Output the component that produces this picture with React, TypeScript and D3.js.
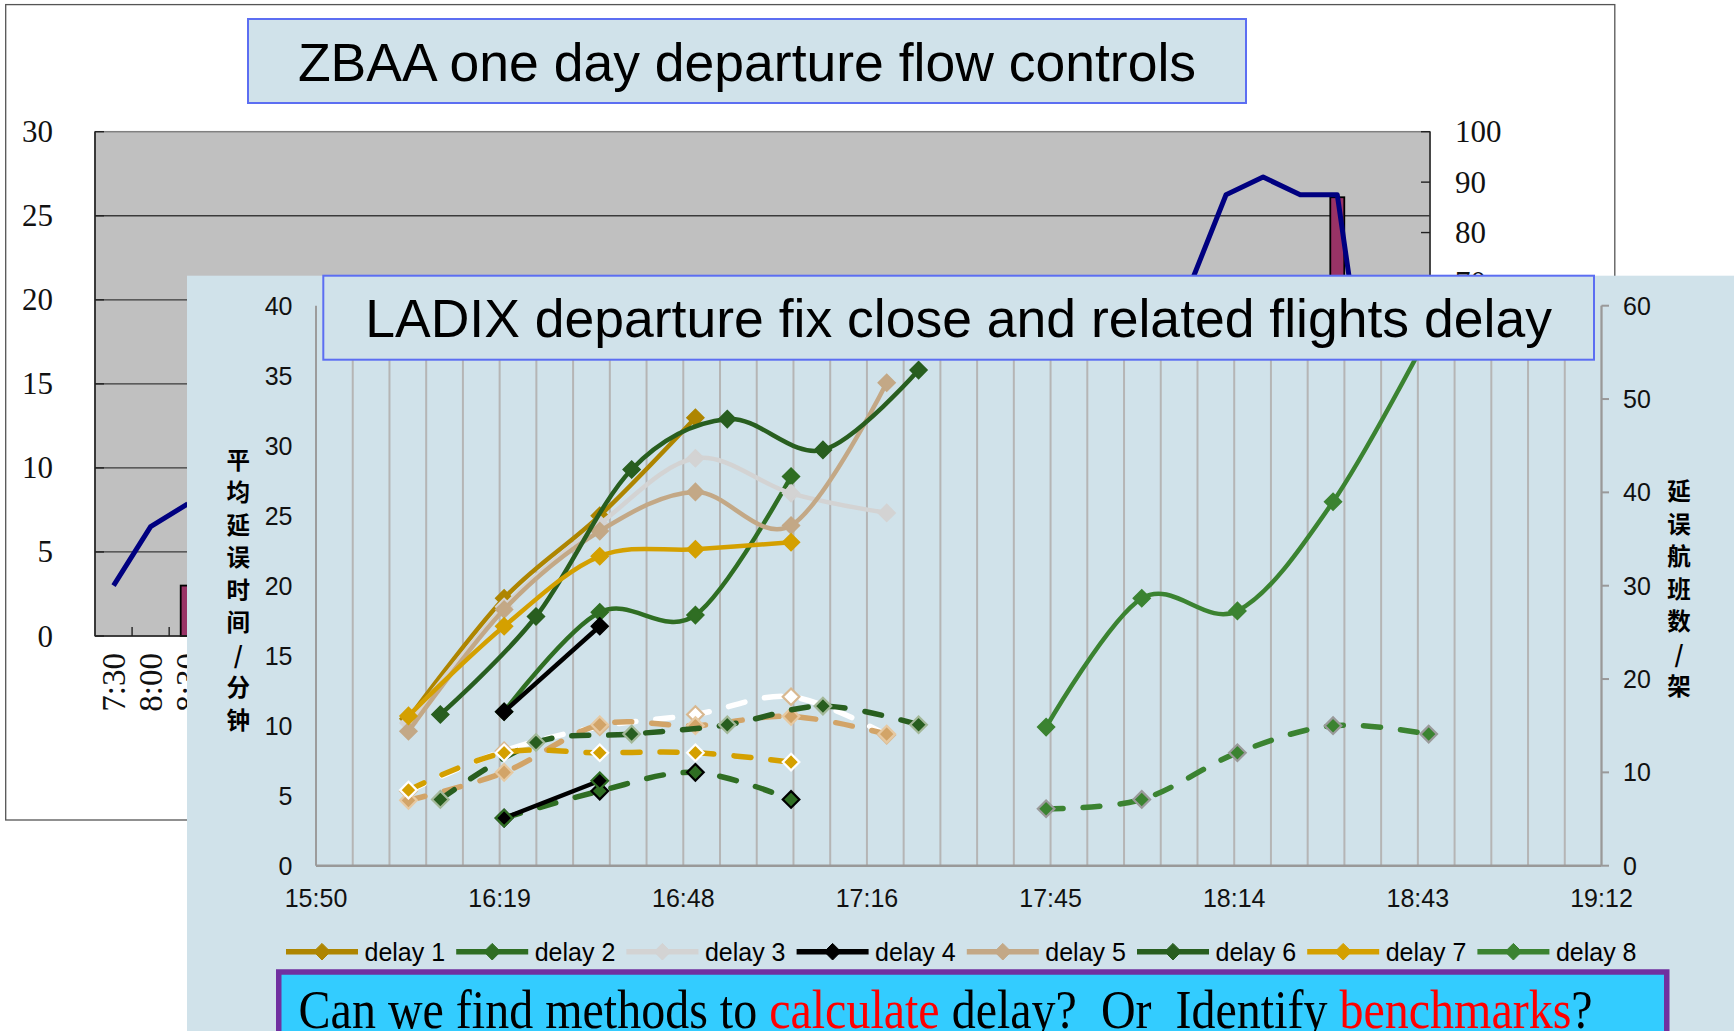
import React from "react";
import * as d3 from "d3";

const W = 1734;
const H = 1031;

// ---------------- Background chart: ZBAA one day departure flow controls ----------------
const zbaaTitle = "ZBAA one day departure flow controls";
const zbaaCategories = [
  "7:30", "8:00", "8:30", "9:00", "9:30", "10:00", "10:30", "11:00", "11:30", "12:00",
  "12:30", "13:00", "13:30", "14:00", "14:30", "15:00", "15:30", "16:00", "16:30", "17:00",
  "17:30", "18:00", "18:30", "19:00", "19:30", "20:00", "20:30", "21:00", "21:30", "22:00",
  "22:30", "23:00", "23:30", "0:00", "0:30", "1:00",
];
// blue line (right axis 0-100); parts hidden behind the overlay are unknown -> null
const zbaaFlow: (number | null)[] = [
  10.0, 21.7, 26.2, null, null, null, null, null, null, null,
  null, null, null, null, null, null, null, null, null, null,
  null, null, null, null, null, null, null, null, null, 69.0,
  87.5, 91.0, 87.5, 87.5, 36.3, null,
];
// bars (left axis 0-30)
const zbaaControl: (number | null)[] = [
  null, null, 3.0, null, null, null, null, null, null, null,
  null, null, null, null, null, null, null, null, null, null,
  null, null, null, null, null, null, null, null, null, null,
  null, null, null, 26.1, null, null,
];
const zbaaLeftTicks = [0, 5, 10, 15, 20, 25, 30];
const zbaaRightTicks = [0, 10, 20, 30, 40, 50, 60, 70, 80, 90, 100];

// ---------------- Overlay chart: LADIX ----------------
const ladixTitle = "LADIX departure fix close and related flights delay";
const leftTitle = ["平", "均", "延", "误", "时", "间", "/", "分", "钟"];
const rightTitle = ["延", "误", "航", "班", "数", "/", "架"];
const xTickLabels = ["15:50", "16:19", "16:48", "17:16", "17:45", "18:14", "18:43", "19:12"];
const yLeftTicks = [0, 5, 10, 15, 20, 25, 30, 35, 40];
const yRightTicks = [0, 10, 20, 30, 40, 50, 60];

const timesA = ["16:04:30", "16:19:30", "16:34:30", "16:49:30", "17:04:30", "17:19:30"];
const timesB = ["16:09:30", "16:24:30", "16:39:30", "16:54:30", "17:09:30", "17:24:30"];
const timesC = ["16:19:30", "16:34:30", "16:49:30", "17:04:30"];
const timesD = ["17:44:30", "17:59:30", "18:14:30", "18:29:30", "18:44:30"];

// average delay, minutes (left axis)
const delay1Avg = [10.5, 19.1, 25.0, 32.0];
const delay2Avg = [11.0, 18.1, 17.9, 27.8];
const delay3Avg = [10.2, 18.5, 24.4, 29.1, 26.6, 25.2];
const delay4Avg = [11.0, 17.1];
const delay5Avg = [9.6, 18.3, 23.9, 26.7, 24.3, 34.5];
const delay6Avg = [10.8, 17.8, 28.3, 31.9, 29.7, 35.4];
const delay7Avg = [10.7, 17.1, 22.1, 22.6, 23.1];
const delay8Avg = [9.9, 19.1, 18.2, 26.0, 38.0];

// delayed flights count (right axis)
const delay2Count = [5.1, 8.0, 10.0, 7.1];
const delay3Count = [8.0, 12.3, 14.9, 16.2, 18.1, 14.0];
const delay4Count = [5.1, 9.1];
const delay5Count = [7.0, 10.0, 15.1, 15.0, 16.0, 14.1];
const delay6Count = [7.1, 13.2, 14.1, 15.1, 17.1, 15.1];
const delay7Count = [8.1, 12.1, 12.1, 12.1, 11.1];
const delay8Count = [6.1, 7.1, 12.1, 15.0, 14.1];

const bottomParts = [
  { t: "Can we find methods to ", red: false },
  { t: "calculate", red: true },
  { t: " delay?  Or  Identify ", red: false },
  { t: "benchmarks", red: true },
  { t: "?", red: false },
];

const toMin = (s: string) => {
  const [h, m, sec] = s.split(":").map(Number);
  return h * 60 + m + (sec || 0) / 60;
};

const diamond = (r: number) => `M0,${-r}L${r},0L0,${r}L${-r},0Z`;

type Series = {
  name?: string;
  times: string[];
  values: number[];
  color: string;
  axis: "L" | "R";
  dashed?: boolean;
  width: number;
  mFill: string;
  mStroke: string;
  r: number;
};

const C1 = "#AE8500";
const C2 = "#2F6E23";
const C3 = "#D3D3D3";
const C4 = "#000000";
const C5 = "#C3A886";
const C6 = "#285E1F";
const C7 = "#D4A000";
const C8 = "#3B8331";

const primary: Series[] = [
  { name: "delay 1", times: timesA.slice(0, 4), values: delay1Avg, color: C1, axis: "L", width: 4.5, mFill: C1, mStroke: C1, r: 8.5 },
  { name: "delay 2", times: timesC, values: delay2Avg, color: C2, axis: "L", width: 4.5, mFill: C2, mStroke: C2, r: 8.5 },
  { name: "delay 3", times: timesA, values: delay3Avg, color: C3, axis: "L", width: 4.5, mFill: C3, mStroke: C3, r: 8.5 },
  { name: "delay 4", times: timesC.slice(0, 2), values: delay4Avg, color: C4, axis: "L", width: 4.5, mFill: C4, mStroke: C4, r: 8.5 },
  { name: "delay 5", times: timesA, values: delay5Avg, color: C5, axis: "L", width: 4.5, mFill: C5, mStroke: C5, r: 8.5 },
  { name: "delay 6", times: timesB, values: delay6Avg, color: C6, axis: "L", width: 4.5, mFill: C6, mStroke: C6, r: 8.5 },
  { name: "delay 7", times: timesA.slice(0, 5), values: delay7Avg, color: C7, axis: "L", width: 4.5, mFill: C7, mStroke: C7, r: 8.5 },
  { name: "delay 8", times: timesD, values: delay8Avg, color: C8, axis: "L", width: 4.5, mFill: C8, mStroke: C8, r: 8.5 },
];

const secondary: Series[] = [
  { times: timesC, values: delay2Count, color: C2, axis: "R", dashed: true, width: 5.5, mFill: C2, mStroke: "#000", r: 8.3 },
  { times: timesA, values: delay3Count, color: "#FFFFFF", axis: "R", dashed: true, width: 5.5, mFill: "#FFFFFF", mStroke: "#D8B890", r: 8.3 },
  { times: timesC.slice(0, 2), values: delay4Count, color: "#000", axis: "R", width: 4.5, mFill: "#000", mStroke: C2, r: 8.3 },
  { times: timesA, values: delay5Count, color: "#D2A468", axis: "R", dashed: true, width: 5.5, mFill: "#D2A468", mStroke: "#E6C9A2", r: 8.3 },
  { times: timesB, values: delay6Count, color: C6, axis: "R", dashed: true, width: 5.5, mFill: C6, mStroke: "#A3B899", r: 8.3 },
  { times: timesA.slice(0, 5), values: delay7Count, color: C7, axis: "R", dashed: true, width: 5.5, mFill: C7, mStroke: "#FFFFFF", r: 8.3 },
  { times: timesD, values: delay8Count, color: C8, axis: "R", dashed: true, width: 5.5, mFill: C8, mStroke: "#9A9A9A", r: 8.3 },
];

export default function App() {
  // ---- background scales ----
  const bx = d3.scaleBand<string>().domain(zbaaCategories).range([95, 1430]).padding(0);
  const byL = d3.scaleLinear().domain([0, 30]).range([636, 131.7]);
  const byR = d3.scaleLinear().domain([0, 100]).range([636, 131.7]);
  const bw = bx.bandwidth();
  const cx = (c: string) => (bx(c) as number) + bw / 2;
  const overlayLeft = 187;
  const overlayTop = 275.7;

  const flowPts = zbaaCategories.map((c, i) => ({ c, v: zbaaFlow[i] }));
  const flowLine = d3
    .line<{ c: string; v: number | null }>()
    .defined((d) => d.v != null)
    .x((d) => cx(d.c))
    .y((d) => byR(d.v as number));

  // ---- overlay scales ----
  const x0 = toMin("15:50");
  const x = d3.scaleLinear().domain([x0, x0 + 201.6]).range([316, 1601.5]);
  const yL = d3.scaleLinear().domain([0, 40]).range([865.7, 305.7]);
  const yR = d3.scaleLinear().domain([0, 60]).range([865.7, 305.7]);
  const gridMins = d3.range(1, 36).map((k) => x0 + k * 5.76);
  const xTickVals = xTickLabels.map((_, i) => x0 + i * 28.8);

  const line = (s: Series) =>
    d3
      .line<[number, number]>()
      .x((d) => d[0])
      .y((d) => d[1])
      .curve(d3.curveCardinal.tension(0))(
        s.times.map((t, i) => [x(toMin(t)), (s.axis === "L" ? yL : yR)(s.values[i])] as [number, number])
      );

  const drawSeries = (s: Series, key: string) => (
    <g key={key}>
      <path
        d={line(s) || ""}
        fill="none"
        stroke={s.color}
        strokeWidth={s.width}
        strokeDasharray={s.dashed ? "17 20" : undefined}
        strokeLinecap={s.dashed ? "round" : "butt"}
        strokeLinejoin="round"
      />
      {s.times.map((t, i) => (
        <path
          key={i}
          d={diamond(s.r)}
          transform={`translate(${x(toMin(t))},${(s.axis === "L" ? yL : yR)(s.values[i])})`}
          fill={s.mFill}
          stroke={s.mStroke}
          strokeWidth={s.axis === "L" ? 1.5 : 2.2}
        />
      ))}
    </g>
  );

  const sans = "'Liberation Sans', Arial, sans-serif";
  const serif = "'Liberation Serif', 'Times New Roman', serif";
  const cjk = "'Noto Sans CJK SC', sans-serif";
  const panel = "#D0E2EA";

  return (
    <svg
      width={W}
      height={H}
      viewBox={`0 0 ${W} ${H}`}
      style={{ position: "fixed", left: 0, top: 0, display: "block", background: "#fff" }}
    >
      {/* ===== background ZBAA chart ===== */}
      <rect x={5.7} y={4.6} width={1614.8 - 5.7} height={820 - 4.6} fill="#fff" stroke="#555" strokeWidth={1.3} />
      <rect x={95} y={131.7} width={1430 - 95} height={636 - 131.7} fill="#C0C0C0" stroke="#808080" strokeWidth={1.5} />
      {zbaaLeftTicks.filter((t) => t > 0 && t < 30).map((t) => (
        <line key={t} x1={95} x2={1430} y1={byL(t)} y2={byL(t)} stroke="#3a3a3a" strokeWidth={1.3} />
      ))}
      {zbaaCategories.map((c, i) =>
        zbaaControl[i] == null ? null : (
          <rect
            key={c}
            x={cx(c) - 7}
            y={byL(zbaaControl[i] as number)}
            width={14}
            height={636 - byL(zbaaControl[i] as number)}
            fill="#993366"
            stroke="#000"
            strokeWidth={1.8}
          />
        )
      )}
      <line x1={95} x2={95} y1={131.7} y2={636} stroke="#222" strokeWidth={1.6} />
      <line x1={95} x2={1430} y1={636} y2={636} stroke="#222" strokeWidth={1.6} />
      <line x1={1430} x2={1430} y1={131.7} y2={636} stroke="#333" strokeWidth={1.6} />
      {zbaaLeftTicks.map((t) => (
        <line key={t} x1={95} x2={104} y1={byL(t)} y2={byL(t)} stroke="#222" strokeWidth={1.4} />
      ))}
      {zbaaRightTicks.map((t) => (
        <line key={t} x1={1421} x2={1430} y1={byR(t)} y2={byR(t)} stroke="#222" strokeWidth={1.4} />
      ))}
      {zbaaCategories.slice(1).map((c) => (
        <line key={c} x1={bx(c) as number} x2={bx(c) as number} y1={627} y2={636} stroke="#222" strokeWidth={1.4} />
      ))}
      <path d={flowLine(flowPts) || ""} fill="none" stroke="#000080" strokeWidth={5} strokeLinejoin="round" />
      {zbaaLeftTicks.map((t) => (
        <text key={t} x={53} y={byL(t)} textAnchor="end" dominantBaseline="central" fontFamily={serif} fontSize={31} fill="#111">
          {t}
        </text>
      ))}
      {/* right-axis labels: only those not fully covered by the overlay panel */}
      {zbaaRightTicks
        .filter((t) => byR(t) - 12 < overlayTop)
        .map((t) => (
          <text key={t} x={1455} y={byR(t)} textAnchor="start" dominantBaseline="central" fontFamily={serif} fontSize={31} fill="#111">
            {t}
          </text>
        ))}
      {/* category labels: only those not covered by the overlay panel */}
      {zbaaCategories
        .filter((c) => cx(c) - 12 < overlayLeft)
        .map((c) => (
          <text
            key={c}
            transform={`translate(${cx(c)},653) rotate(-90)`}
            textAnchor="end"
            dominantBaseline="central"
            fontFamily={serif}
            fontSize={33}
            fill="#111"
          >
            {c}
          </text>
        ))}
      <rect x={248} y={19} width={1246 - 248} height={103 - 19} fill={panel} stroke="#5C6EF2" strokeWidth={2} />
      <text x={747} y={80.5} textAnchor="middle" fontFamily={sans} fontSize={53.5} fill="#000">
        {zbaaTitle}
      </text>

      {/* ===== overlay LADIX chart ===== */}
      <rect x={overlayLeft} y={overlayTop} width={W - overlayLeft} height={H - overlayTop} fill={panel} />
      {gridMins.map((m, i) => (
        <line key={i} x1={x(m)} x2={x(m)} y1={305.7} y2={865.7} stroke="#B5B5B5" strokeWidth={2} />
      ))}
      <line x1={316} x2={316} y1={305.7} y2={865.7} stroke="#9C9C9C" strokeWidth={2} />
      <line x1={1601.5} x2={1601.5} y1={305.7} y2={865.7} stroke="#999" strokeWidth={2} />
      <line x1={316} x2={1601.5} y1={865.7} y2={865.7} stroke="#999" strokeWidth={2.5} />
      {yRightTicks.map((t) => (
        <line key={t} x1={1601.5} x2={1609} y1={yR(t)} y2={yR(t)} stroke="#999" strokeWidth={2} />
      ))}
      {yLeftTicks.map((t) => (
        <text key={t} x={292.5} y={yL(t)} textAnchor="end" dominantBaseline="central" fontFamily={sans} fontSize={25} fill="#111">
          {t}
        </text>
      ))}
      {yRightTicks.map((t) => (
        <text key={t} x={1623} y={yR(t)} textAnchor="start" dominantBaseline="central" fontFamily={sans} fontSize={25} fill="#111">
          {t}
        </text>
      ))}
      {xTickLabels.map((l, i) => (
        <text key={l} x={x(xTickVals[i])} y={907} textAnchor="middle" fontFamily={sans} fontSize={25} fill="#111">
          {l}
        </text>
      ))}
      {leftTitle.map((ch, i) => (
        <text key={i} x={238.3} y={458.6 + i * 32.5} textAnchor="middle" dominantBaseline="central" fontFamily={cjk} fontWeight={700} fontSize={23.5} fill="#000">
          {ch}
        </text>
      ))}
      {rightTitle.map((ch, i) => (
        <text key={i} x={1679} y={490 + i * 32.5} textAnchor="middle" dominantBaseline="central" fontFamily={cjk} fontWeight={700} fontSize={23.5} fill="#000">
          {ch}
        </text>
      ))}

      {primary.map((s, i) => drawSeries(s, "p" + i))}
      {secondary.map((s, i) => drawSeries(s, "s" + i))}

      <rect x={323.3} y={overlayTop} width={1594 - 323.3} height={359.7 - overlayTop} fill={panel} stroke="#5C6EF2" strokeWidth={2} />
      <text x={958.6} y={337} textAnchor="middle" fontFamily={sans} fontSize={53.5} fill="#000">
        {ladixTitle}
      </text>

      {/* legend */}
      {primary.map((s, i) => {
        const lx = 286 + i * 170.2;
        return (
          <g key={s.name}>
            <line x1={lx} x2={lx + 72} y1={951.7} y2={951.7} stroke={s.color} strokeWidth={5.5} />
            <path d={diamond(8.3)} transform={`translate(${lx + 36},951.7)`} fill={s.mFill} stroke={s.mStroke} strokeWidth={1} />
            <text x={lx + 78.5} y={960.5} fontFamily={sans} fontSize={25} fill="#000">
              {s.name}
            </text>
          </g>
        );
      })}

      {/* bottom question box */}
      <rect x={278.75} y={972} width={1388} height={100} fill="#33CCFF" stroke="#7030A0" strokeWidth={5.5} />
      <text
        transform="translate(298.6,1027.5) scale(1,1.15)"
        fontFamily={serif}
        fontSize={48}
        fill="#000"
        style={{ whiteSpace: "pre" }}
      >
        {bottomParts.map((p, i) => (
          <tspan key={i} fill={p.red ? "#FF0000" : "#000"}>
            {p.t}
          </tspan>
        ))}
      </text>
    </svg>
  );
}
